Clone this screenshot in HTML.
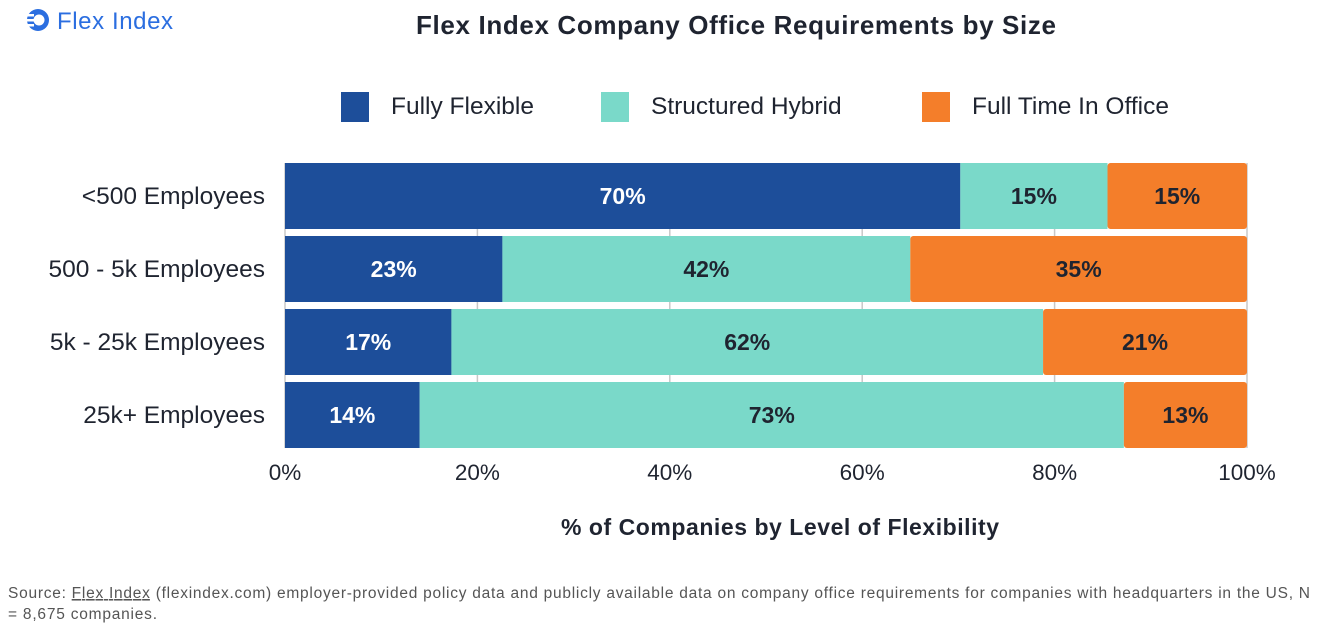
<!DOCTYPE html>
<html><head><meta charset="utf-8">
<style>
body{margin:0;background:#fff;width:1322px;height:632px;overflow:hidden;font-family:"Liberation Sans",sans-serif;}
</style></head>
<body>
<svg width="1322" height="632" xmlns="http://www.w3.org/2000/svg" font-family="Liberation Sans, sans-serif">
<g>
<circle cx="38" cy="20" r="11" fill="#2B6EE0"/>
<circle cx="39" cy="20" r="5.5" fill="#fff"/>
<rect x="25" y="14" width="9" height="2.5" fill="#fff"/><rect x="25" y="19" width="9" height="2.5" fill="#fff"/><rect x="25" y="24" width="9" height="2.5" fill="#fff"/>
<text x="57" y="29" font-size="24" fill="#2B6EE0" textLength="116">Flex Index</text>
</g>
<text x="736" y="34" text-anchor="middle" font-size="26" font-weight="bold" fill="#1f2430" textLength="640">Flex Index Company Office Requirements by Size</text>
<g id="legend"></g>
<g id="grid"></g>
<g id="bars"></g>
<g id="axis"></g>
<text x="780" y="535" text-anchor="middle" font-size="23" font-weight="bold" fill="#1f2430" textLength="438">% of Companies by Level of Flexibility</text>
<text font-size="15.5" fill="#555">
<tspan x="8" y="598" textLength="1302">Source: <tspan text-decoration="underline">Flex Index</tspan> (flexindex.com) employer-provided policy data and publicly available data on company office requirements for companies with headquarters in the US, N</tspan>
<tspan x="8" y="619" textLength="149">= 8,675 companies.</tspan></text>
</svg>
<script>
const categories=["<500 Employees","500 - 5k Employees","5k - 25k Employees","25k+ Employees"];
const fullyFlexible=[70.2,22.6,17.3,14.0];
const structuredHybrid=[15.3,42.4,61.5,73.2];
const fullTimeOffice=[14.5,35.0,21.2,12.8];
const seriesNames=["Fully Flexible","Structured Hybrid","Full Time In Office"];
const ticks=[0,20,40,60,80,100];
const colors=["#1D4E9A","#7AD9C9","#F47E2A"];
const textColors=["#fff","#1f2430","#1f2430"];
const NS="http://www.w3.org/2000/svg";
const X0=285,X1=1247,Y0=163,PITCH=73,BH=66;
const xs=v=>X0+(X1-X0)*v/100;
function mk(t,a,p){const e=document.createElementNS(NS,t);for(const k in a)e.setAttribute(k,a[k]);p.appendChild(e);return e;}
const g=document.getElementById('grid'),b=document.getElementById('bars'),ax=document.getElementById('axis'),lg=document.getElementById('legend');
const lx=[341,601,922];
seriesNames.forEach((n,i)=>{
 const r=mk('rect',{x:lx[i],y:92,width:28,height:30,fill:colors[i]},lg);
 
 
 const t=mk('text',{x:lx[i]+50,y:114,'font-size':24.5,fill:'#1f2430'},lg);t.textContent=n;
 
 
});
ticks.forEach(v=>{
 const l=mk('line',{x1:xs(v),x2:xs(v),y1:Y0,y2:Y0+PITCH*4-7,stroke:'#c8c8c8','stroke-width':1.5},g);
 
 
 const t=mk('text',{x:xs(v),y:480,'text-anchor':'middle','font-size':22.5,fill:'#1f2430'},ax);t.textContent=v+'%';
 
 
});
const series=[fullyFlexible,structuredHybrid,fullTimeOffice];
categories.forEach((c,ci)=>{
 const y=Y0+ci*PITCH;
 const t=mk('text',{x:265,y:y+BH/2+8,'text-anchor':'end','font-size':24.5,fill:'#1f2430'},ax);t.textContent=c;
 
 
 let acc=0;
 series.forEach((s,si)=>{
  const v=s[ci],xa=xs(acc),xb=xs(acc+v);
  const r=mk('rect',{x:xa,y:y,width:xb-xa,height:BH,fill:colors[si],rx:si==2?3:0},b);
  
  
  const lt=mk('text',{x:(xa+xb)/2,y:y+BH/2+8,'text-anchor':'middle','font-size':23,'font-weight':'bold',fill:textColors[si]},b);
  lt.textContent=Math.round(v)+'%';
  
  
  acc+=v;
 });
});
</script>
</body></html>
